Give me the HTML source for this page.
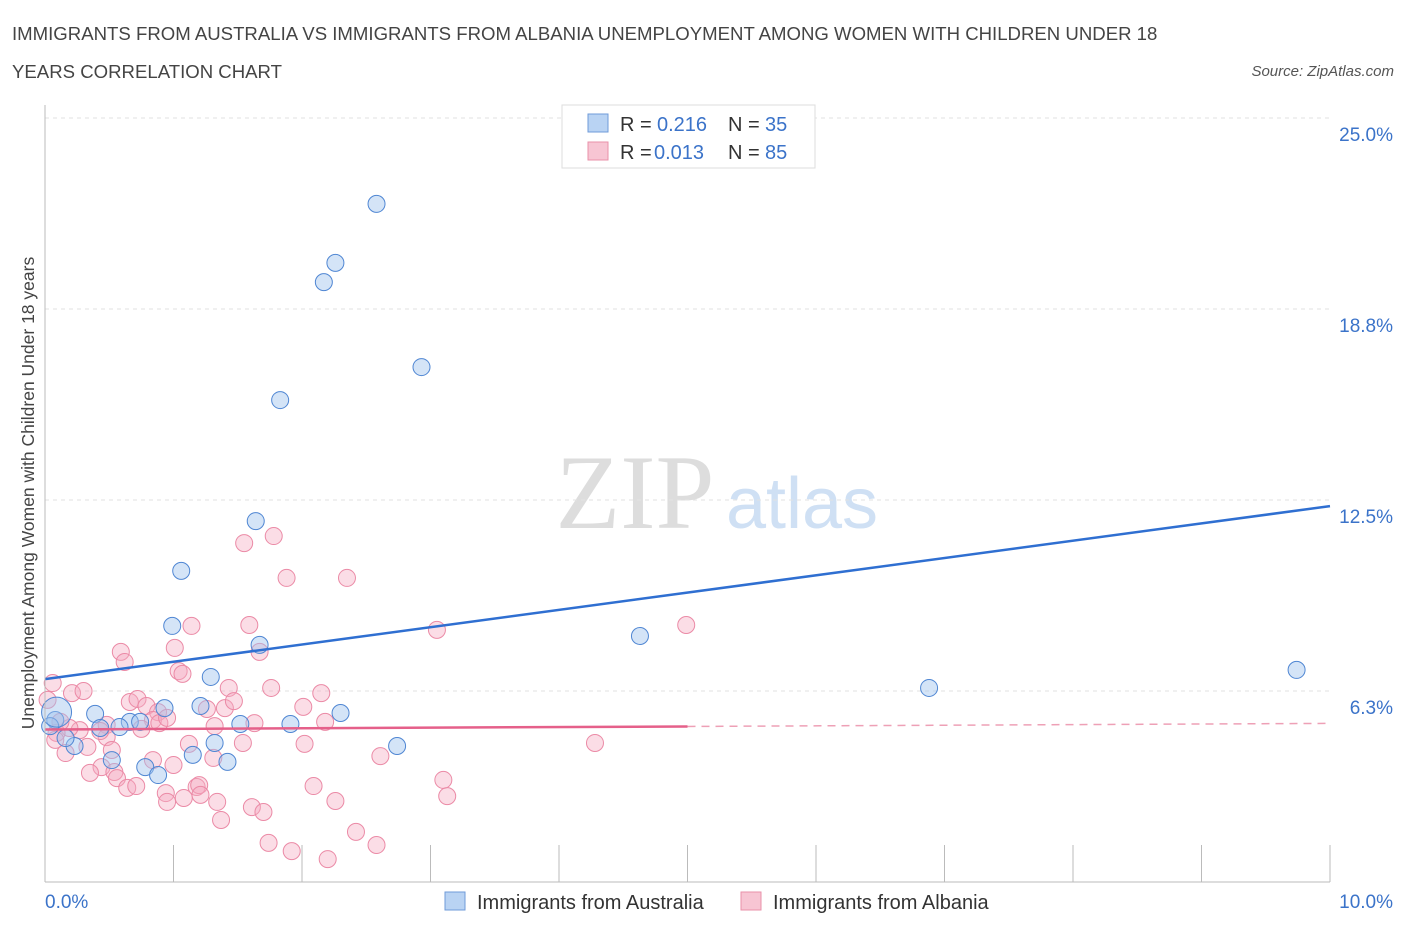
<!DOCTYPE html>
<html><head><meta charset="utf-8"><style>
body{margin:0;background:#fff;width:1406px;height:930px;overflow:hidden;font-family:"Liberation Sans",sans-serif}
</style></head><body>
<svg id="c" width="1406" height="930" xmlns="http://www.w3.org/2000/svg">
<text x="12" y="40" font-size="18.6" fill="#444">IMMIGRANTS FROM AUSTRALIA VS IMMIGRANTS FROM ALBANIA UNEMPLOYMENT AMONG WOMEN WITH CHILDREN UNDER 18</text>
<text x="12" y="78" font-size="18.6" fill="#444">YEARS CORRELATION CHART</text>
<text x="1394" y="76" font-size="15" fill="#555" font-style="italic" text-anchor="end">Source: ZipAtlas.com</text>
<g>
<text x="635" y="528" font-size="106" font-family="Liberation Serif,serif" fill="#ddd" text-anchor="middle">ZIP</text>
<text x="802" y="528" font-size="72" fill="#cfe0f4" text-anchor="middle">atlas</text>
</g>
<g id="grid"></g>
<g id="pts"></g>
<g id="lines"></g>
<line x1="45" y1="105" x2="45" y2="882" stroke="#bbb"/>
<line x1="45" y1="882" x2="1330" y2="882" stroke="#bbb"/>
<text x="45" y="908" font-size="19" fill="#3b73c9">0.0%</text>
<text x="1393" y="908" font-size="19" fill="#3b73c9" text-anchor="end">10.0%</text>
<text transform="translate(34,493) rotate(-90)" font-size="17.5" fill="#444" text-anchor="middle">Unemployment Among Women with Children Under 18 years</text>
<g>
<rect x="562" y="105" width="253" height="63" fill="#fff" stroke="#ddd"/>
<rect x="588" y="114" width="20" height="18" fill="#b9d3f3" stroke="#6f9bd8"/>
<text x="620" y="131" font-size="20" fill="#333">R =</text>
<text x="657" y="131" font-size="20" fill="#3b73c9">0.216</text>
<text x="728" y="131" font-size="20" fill="#333">N =</text>
<text x="765" y="131" font-size="20" fill="#3b73c9">35</text>
<rect x="588" y="142" width="20" height="18" fill="#f7c5d3" stroke="#e891aa"/>
<text x="620" y="159" font-size="20" fill="#333">R =</text>
<text x="654" y="159" font-size="20" fill="#3b73c9">0.013</text>
<text x="728" y="159" font-size="20" fill="#333">N =</text>
<text x="765" y="159" font-size="20" fill="#3b73c9">85</text>
</g>
<g>
<rect x="445" y="892" width="20" height="18" fill="#b9d3f3" stroke="#6f9bd8"/>
<text x="477" y="909" font-size="20" fill="#333">Immigrants from Australia</text>
<rect x="741" y="892" width="20" height="18" fill="#f7c5d3" stroke="#e891aa"/>
<text x="773" y="909" font-size="20" fill="#333">Immigrants from Albania</text>
</g>
</svg>
<script>
const yTicks=[6.25,12.5,18.75,25];
const yTickLabels=["6.3%","12.5%","18.8%","25.0%"];
const xTicks=[0,1,2,3,4,5,6,7,8,9,10];
const blueX=[2.58,2.26,2.17,2.93,1.83,1.64,1.06,0.99,1.67,4.63,1.29,1.21,0.93,0.39,0.08,0.04,0.66,0.74,0.58,1.52,1.91,2.30,2.74,1.32,1.15,1.42,0.52,0.78,0.88,0.23,0.16,9.74,6.88,0.09,0.43];
const blueY=[22.19,20.26,19.63,16.85,15.77,11.81,10.18,8.38,7.76,8.05,6.71,5.76,5.69,5.50,5.30,5.10,5.24,5.24,5.07,5.17,5.17,5.53,4.45,4.55,4.16,3.93,3.99,3.76,3.50,4.45,4.71,6.94,6.35,5.56,5.04];
const pinkX=[1.14,1.59,1.01,0.59,0.62,1.67,1.04,1.07,0.06,0.21,0.30,1.43,1.76,2.15,0.66,0.72,0.79,1.40,1.47,1.26,2.01,0.88,0.84,0.89,1.63,2.18,1.32,0.75,0.48,0.27,0.19,0.09,0.08,0.16,0.33,0.48,0.52,1.12,1.54,2.02,0.84,1.00,1.31,0.44,0.35,0.54,0.56,0.64,0.71,0.94,0.95,1.08,1.18,1.20,1.21,1.34,1.37,1.61,1.70,2.09,2.26,2.61,1.74,1.92,2.20,2.42,2.58,1.55,1.78,1.88,2.35,3.05,4.99,4.28,3.10,3.13,0.12,0.02,0.43,0.95];
const pinkY=[8.38,8.41,7.66,7.53,7.20,7.53,6.90,6.81,6.51,6.18,6.25,6.35,6.35,6.18,5.89,5.99,5.76,5.69,5.92,5.66,5.73,5.56,5.30,5.20,5.20,5.24,5.10,5.01,5.14,4.97,5.04,4.88,4.65,4.22,4.42,4.74,4.32,4.52,4.55,4.52,3.99,3.83,4.06,3.76,3.57,3.60,3.40,3.08,3.14,2.91,2.62,2.75,3.11,3.17,2.85,2.62,2.03,2.45,2.29,3.14,2.65,4.12,1.28,1.01,0.75,1.64,1.21,11.09,11.32,9.95,9.95,8.25,8.41,4.55,3.34,2.81,5.24,5.96,4.94,5.37];
const blueTrend=[6.64,12.3];
const pinkTrend=[4.99,5.19];
const NS="http://www.w3.org/2000/svg";
const X=v=>45+v*128.5, Y=v=>882-v*30.56;
function mk(t,a,p){const e=document.createElementNS(NS,t);for(const k in a)e.setAttribute(k,a[k]);p.appendChild(e);return e;}
const grid=document.getElementById('grid');
yTicks.forEach((v,i)=>{
 const l=mk('line',{x1:45,x2:1330,y1:Y(v),y2:Y(v),stroke:'#e2e2e2','stroke-dasharray':'4,4'},grid);
 
 
 const t=mk('text',{x:1393,y:Y(v)+23,'font-size':19,fill:'#3b73c9','text-anchor':'end'},grid);
 t.textContent=yTickLabels[i];
 
 
});
xTicks.forEach(v=>{
 const l=mk('line',{x1:X(v),x2:X(v),y1:845,y2:882,stroke:'#bbb'},grid);
 
 
});
const pts=document.getElementById('pts');
pinkX.forEach((x,i)=>{
 const c=mk('circle',{cx:X(x),cy:Y(pinkY[i]),r:8.5,fill:'rgba(245,170,192,0.4)',stroke:'#eb8aa6','stroke-width':1},pts);
 
 
});
blueX.forEach((x,i)=>{
 const c=mk('circle',{cx:X(x),cy:Y(blueY[i]),r:(i==33?15:8.5),fill:'rgba(160,195,238,0.45)',stroke:'#4f86d3','stroke-width':1},pts);
 
 
});
const lines=document.getElementById('lines');
const bl=mk('line',{x1:X(0),y1:Y(blueTrend[0]),x2:X(10),y2:Y(blueTrend[1]),stroke:'#2f6fd1','stroke-width':2.5},lines);


const pm=pinkTrend[0]+(pinkTrend[1]-pinkTrend[0])*0.5;
const pl=mk('line',{x1:X(0),y1:Y(pinkTrend[0]),x2:X(5),y2:Y(pm),stroke:'#e5608a','stroke-width':2.5},lines);


const pd=mk('line',{x1:X(5),y1:Y(pm),x2:X(10),y2:Y(pinkTrend[1]),stroke:'#eea0b6','stroke-width':1.5,'stroke-dasharray':'8,6'},lines);


</script>
</body></html>
